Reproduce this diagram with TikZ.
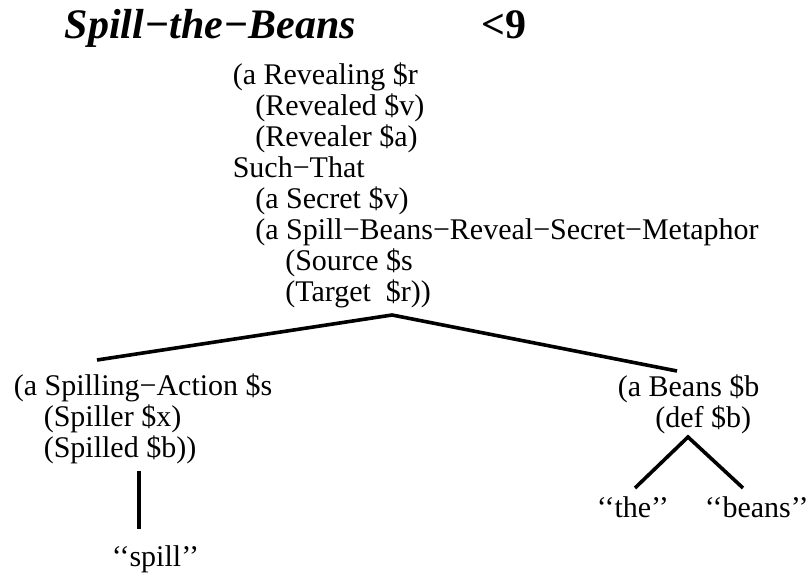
\documentclass[tikz,border=0pt]{standalone}
\usepackage{fontspec}
\setmainfont{Liberation Serif}
\tikzset{
  every picture/.style={x=1pt, y=-1pt, line width=3.6pt},
  lisp/.style={align=left, inner sep=0pt, anchor=base west, font=\fontsize{30}{31}\selectfont},
  leaf/.style={inner sep=0pt, anchor=base west, font=\fontsize{30}{31}\selectfont},
  title/.style={inner sep=0pt, anchor=base west, font=\fontsize{42}{44}\selectfont\bfseries\itshape},
  branch/.style={draw, line width=3.6pt},
}
% indent by a number of word spaces
\newcommand{\ind}[1]{\hspace*{#1\dimexpr 7.5pt\relax}}

\begin{document}
\begin{tikzpicture}
  \useasboundingbox (0,0) rectangle (809,573);
  \node[title] (name) at (63,38) {Spill−the−Beans};
  \node[title, font=\fontsize{42}{44}\selectfont\bfseries] (rank) at (480,38) {<9};
  % multi-line nodes sit on the baseline of their last line
  \node[lisp] (reveal) at (231,301) {(a Revealing \$r\\
    \ind{3}(Revealed \$v)\\
    \ind{3}(Revealer \$a)\\
    Such−That\\
    \ind{3}(a Secret \$v)\\
    \ind{3}(a Spill−Beans−Reveal−Secret−Metaphor\\
    \ind{7}(Source \$s\\
    \ind{7}(Target\ \ \$r))};
  \node[lisp] (action) at (12,457) {(a Spilling−Action \$s\\
    \ind{4}(Spiller \$x)\\
    \ind{4}(Spilled \$b))};
  \node[lisp] (beans) at (616,427) {(a Beans \$b\\
    \ind{5}(def \$b)};
  \node[leaf] (spill) at (110,566) {‘‘spill’’};
  \node[leaf] (the) at (595,517) {‘‘the’’};
  \node[leaf] (beanw) at (703,517) {‘‘beans’’};
  % attachment points of the branches
  \coordinate (reveal-foot) at (392,315);
  \coordinate (action-head) at (97,360);
  \coordinate (beans-head) at (677,371);
  \coordinate (action-foot) at (139,471);
  \coordinate (spill-head) at (139,529);
  \coordinate (beans-foot) at (688,437);
  \coordinate (the-head) at (635,488);
  \coordinate (beanw-head) at (743,488);
  \draw[branch] (action-head) -- (reveal-foot) -- (beans-head);
  \draw[branch] (action-foot) -- (spill-head);
  \draw[branch] (the-head) -- (beans-foot) -- (beanw-head);
\end{tikzpicture}
\end{document}
